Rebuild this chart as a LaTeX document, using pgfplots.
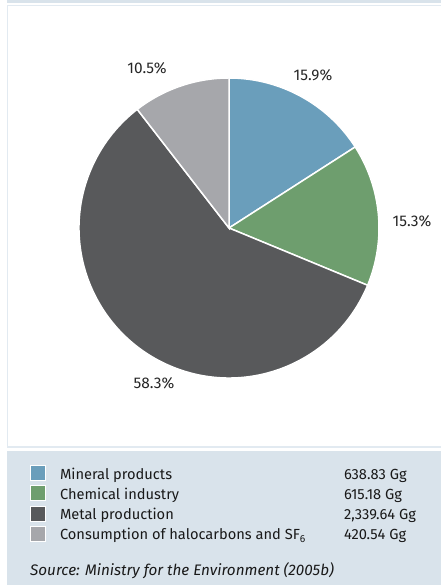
\documentclass[border=0pt]{standalone}
\usepackage{pgfplots}
\usepackage{pgfplotstable}
\pgfplotsset{compat=1.18}
\usepackage{fontspec}
\setmainfont{Fira Sans}

\definecolor{mineralc}{HTML}{6A9EBB}
\definecolor{chemc}{HTML}{6E9E6E}
\definecolor{metalc}{HTML}{58595B}
\definecolor{haloc}{HTML}{A6A7AB}
\definecolor{panelc}{HTML}{D9E3EB}
\definecolor{linec}{HTML}{E2EAF1}

% emissions by source, Gg
\pgfplotstableread{
source value
Mineral 638.83
Chemical 615.18
Metal 2339.64
Halo 420.54
}\piedata

\begin{document}
\begin{tikzpicture}
\pgfplotstablegetelem{0}{value}\of\piedata \let\vA\pgfplotsretval
\pgfplotstablegetelem{1}{value}\of\piedata \let\vB\pgfplotsretval
\pgfplotstablegetelem{2}{value}\of\piedata \let\vC\pgfplotsretval
\pgfplotstablegetelem{3}{value}\of\piedata \let\vD\pgfplotsretval
\pgfmathsetmacro\tot{\vA+\vB+\vC+\vD}
% shares of the total
\pgfmathsetmacro\fA{\vA/\tot}
\pgfmathsetmacro\fB{\vB/\tot}
\pgfmathsetmacro\fC{\vC/\tot}
\pgfmathsetmacro\fD{\vD/\tot}
% slice angles, clockwise from the top
\pgfmathsetmacro\aA{90}
\pgfmathsetmacro\aB{\aA-360*\fA}
\pgfmathsetmacro\aC{\aB-360*\fB}
\pgfmathsetmacro\aD{\aC-360*\fC}
\pgfmathsetmacro\aE{\aD-360*\fD}
\def\pct#1{\pgfmathparse{100*#1}\pgfmathprintnumber[fixed,fixed zerofill,precision=1,assume math mode=true]{\pgfmathresult}\%}

\begin{axis}[
  name=ax,
  at={(0,0)}, anchor=south west,
  x=1bp, y=1bp,
  xmin=0, xmax=441, ymin=0, ymax=585,
  scale only axis,
  hide axis,
  clip=false,
  font=\fontsize{14.7}{17}\selectfont,
  legend style={
    at={(axis cs:30,120)}, anchor=north west,
    draw=none, fill=none, inner sep=0pt,
    row sep=4.5bp,
    nodes={inner sep=0pt, anchor=west, text height=13.5bp, text depth=1.5bp},
    font=\fontsize{14.7}{17}\selectfont,
    text=black!90,
  },
  legend cell align=left,
  /tikz/every odd column/.append style={column sep=14bp},
  legend image code/.code={
    \draw[#1, draw=white, line width=0.8bp] (0bp,-7.5bp) rectangle (15bp,7.5bp);
  },
]
% background panels
\fill[panelc] (axis cs:7,582) rectangle (axis cs:441,585);
\draw[linec, line width=1.2bp] (axis cs:441,579.5) -- (axis cs:7.6,579.5) -- (axis cs:7.6,138) -- (axis cs:441,138);
\fill[panelc] (axis cs:7,0) rectangle (axis cs:441,134);

% pie slices
\fill[mineralc, draw=white, line width=1.5bp] (axis cs:229,357) -- ++(\aA:150bp) arc[start angle=\aA, end angle=\aB, radius=150bp] -- cycle;
\fill[chemc, draw=white, line width=1.5bp] (axis cs:229,357) -- ++(\aB:150bp) arc[start angle=\aB, end angle=\aC, radius=150bp] -- cycle;
\fill[metalc, draw=white, line width=1.5bp] (axis cs:229,357) -- ++(\aC:150bp) arc[start angle=\aC, end angle=\aD, radius=150bp] -- cycle;
\fill[haloc, draw=white, line width=1.5bp] (axis cs:229,357) -- ++(\aD:150bp) arc[start angle=\aD, end angle=\aE, radius=150bp] -- cycle;

% percentage labels
\begin{scope}[font=\fontsize{15.5}{17}\selectfont, text=black!85]
\node at (axis cs:313,510) {\pct{\fA}};
\node at (axis cs:412,364) {\pct{\fB}};
\node at (axis cs:154,202) {\pct{\fC}};
\node at (axis cs:147,517) {\pct{\fD}};
\end{scope}

% source note
\node[anchor=base west, inner sep=0pt, text=black!90, font=\itshape\fontsize{15.3}{17}\selectfont] at (axis cs:30,9) {Source: Ministry for the Environment (2005b)};

\addlegendimage{fill=mineralc}
\addlegendentry{\makebox[284bp][l]{Mineral products}638.83 Gg}
\addlegendimage{fill=chemc}
\addlegendentry{\makebox[284bp][l]{Chemical industry}615.18 Gg}
\addlegendimage{fill=metalc}
\addlegendentry{\makebox[284bp][l]{Metal production}2,339.64 Gg}
\addlegendimage{fill=haloc}
\addlegendentry{\makebox[284bp][l]{Consumption of halocarbons and SF\textsubscript{6}}420.54 Gg}
\end{axis}
\pgfresetboundingbox
\path[use as bounding box] (ax.south west) rectangle (ax.north east);
\end{tikzpicture}
\end{document}
